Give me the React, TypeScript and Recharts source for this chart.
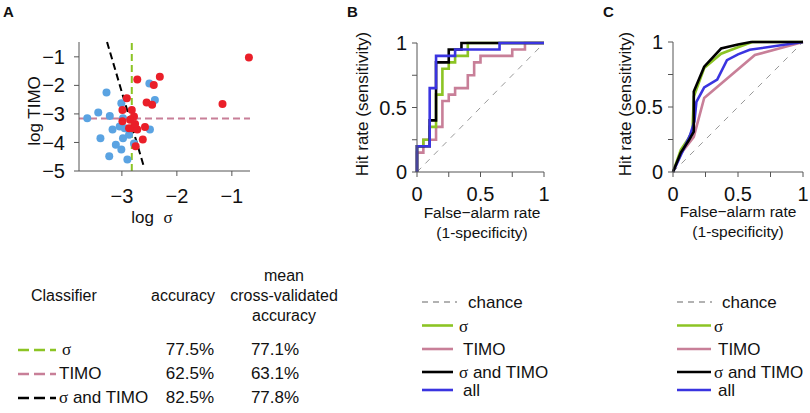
import React from 'react';
import { ScatterChart, Scatter, LineChart, Line, XAxis, YAxis, ReferenceLine } from 'recharts';

const FONT = '"Liberation Sans", Arial, Helvetica, sans-serif';
const SERIF = '"Liberation Serif", "DejaVu Serif", serif';

const GREEN = '#8cc424';
const PINK = '#c87f98';
const BLUE_LINE = '#3a34e0';
const BLUE_DOT = '#5aa3e2';
const RED_DOT = '#ea1f29';
const AXIS = '#555';

// panel A: log sigma / log TIMO per cell
const blueLogSigma = [-3.63, -3.43, -3.28, -3.22, -3.01, -3.04, -3.17, -3.39, -3.11, -2.98, -3.01, -3.23, -2.9, -2.5, -2.4, -2.49, -2.78, -2.98, -2.87, -2.95];
const blueLogTimo = [-3.15, -2.95, -2.25, -3.07, -2.63, -3.44, -3.55, -3.85, -4.08, -3.85, -4.25, -4.48, -4.6, -1.93, -2.51, -3.55, -4.04, -3.15, -3.73, -3.5];
const redLogSigma = [-0.69, -1.17, -2.31, -2.72, -2.42, -2.91, -2.55, -2.45, -2.99, -2.82, -2.78, -2.99, -2.87, -2.81, -2.72, -2.58, -2.62, -2.75, -2.85, -2.76];
const redLogTimo = [-1.02, -2.65, -1.7, -1.79, -1.99, -2.45, -2.6, -2.68, -2.86, -2.86, -3.09, -3.26, -3.5, -3.5, -3.55, -3.46, -3.9, -4.13, -3.2, -3.35];

const sigmaThreshold = -2.82;
const timoThreshold = -3.16;
const jointBoundary = [
  { x: -3.27, y: -0.48 },
  { x: -2.6, y: -4.85 },
];

const xTicksA = [-3, -2, -1];
const yTicksA = [-5, -4, -3, -2, -1];
const rocTicks = [0, 0.25, 0.5, 0.75, 1];

// panel B: ROC on training data
const rocBSigmaFpr = [0, 0, 0.05, 0.05, 0.1, 0.1, 0.15, 0.15, 0.2, 0.2, 0.25, 0.25, 0.3, 0.3, 0.4, 0.4, 1];
const rocBSigmaTpr = [0, 0.2, 0.2, 0.25, 0.25, 0.35, 0.35, 0.6, 0.6, 0.8, 0.8, 0.85, 0.85, 0.9, 0.9, 1, 1];
const rocBTimoFpr = [0, 0, 0.05, 0.05, 0.15, 0.15, 0.2, 0.2, 0.25, 0.25, 0.3, 0.3, 0.4, 0.4, 0.45, 0.45, 0.5, 0.5, 0.75, 0.75, 0.85, 0.85, 1];
const rocBTimoTpr = [0, 0.15, 0.15, 0.25, 0.25, 0.35, 0.35, 0.55, 0.55, 0.6, 0.6, 0.65, 0.65, 0.75, 0.75, 0.85, 0.85, 0.9, 0.9, 0.95, 0.95, 1, 1];
const rocBBothFpr = [0, 0, 0.1, 0.1, 0.15, 0.15, 0.25, 0.25, 0.35, 0.35, 1];
const rocBBothTpr = [0, 0.2, 0.2, 0.4, 0.4, 0.85, 0.85, 0.95, 0.95, 1, 1];
const rocBAllFpr = [0, 0, 0.1, 0.1, 0.15, 0.15, 0.3, 0.3, 0.65, 0.65, 1];
const rocBAllTpr = [0, 0.2, 0.2, 0.65, 0.65, 0.9, 0.9, 0.95, 0.95, 1, 1];

// panel C: cross-validated ROC
const rocCSigmaFpr = [0, 0.06, 0.12, 0.15, 0.16, 0.24, 0.37, 0.5, 0.61, 1];
const rocCSigmaTpr = [0, 0.17, 0.26, 0.32, 0.58, 0.8, 0.91, 0.96, 1, 1];
const rocCTimoFpr = [0, 0.06, 0.16, 0.24, 0.63, 1];
const rocCTimoTpr = [0, 0.14, 0.27, 0.57, 0.9, 1];
const rocCBothFpr = [0, 0.06, 0.12, 0.16, 0.16, 0.24, 0.37, 0.5, 0.6, 1];
const rocCBothTpr = [0, 0.15, 0.24, 0.31, 0.62, 0.81, 0.95, 0.98, 1, 1];
const rocCAllFpr = [0, 0.06, 0.13, 0.165, 0.18, 0.24, 0.34, 0.415, 0.5, 0.59, 1];
const rocCAllTpr = [0, 0.13, 0.28, 0.39, 0.54, 0.65, 0.71, 0.86, 0.905, 0.94, 1];

const classifierNames = ['σ', 'TIMO', 'σ and TIMO'];
const accuracy = ['77.5%', '62.5%', '82.5%'];
const cvAccuracy = ['77.1%', '63.1%', '77.8%'];

const zip = (xs: number[], ys: number[]) => xs.map((x, i) => ({ x, y: ys[i] }));
const minus = (v: number) => String(v).replace('-', '\u2212');
const rocLabel = (v: number) => (v === 0.25 || v === 0.75 ? '' : String(v));

const tickStyle = { fill: '#111', fontSize: 20, fontFamily: FONT };

function Txt({ x, y, size = 17, align = 'left', rotate = false, bold = false, children }: any) {
  const tx = align === 'center' ? '-50%' : align === 'right' ? '-100%' : '0';
  return (
    <div
      style={{
        position: 'absolute',
        left: x,
        top: y,
        fontSize: size,
        fontWeight: bold ? 700 : 400,
        whiteSpace: 'nowrap',
        lineHeight: 1,
        transform: rotate ? 'translate(-50%,-50%) rotate(-90deg)' : `translate(${tx},-50%)`,
      }}
    >
      {children}
    </div>
  );
}

const S = () => <span style={{ fontFamily: SERIF }}>σ</span>;

const dot = (color: string) => (p: any) => <circle cx={p.cx} cy={p.cy} r={4} fill={color} />;

function PanelA() {
  return (
    <ScatterChart width={270} height={215} margin={{ top: 42, right: 20, bottom: 0, left: 0 }}>
      <XAxis
        type="number"
        dataKey="x"
        domain={[-3.78, -0.67]}
        ticks={xTicksA}
        tickFormatter={minus}
        tickSize={5}
        tickMargin={13}
        height={44}
        stroke={AXIS}
        tick={tickStyle}
      />
      <YAxis
        type="number"
        dataKey="y"
        domain={[-5, -0.48]}
        ticks={yTicksA}
        tickFormatter={minus}
        tickSize={5}
        tickMargin={9}
        width={79}
        stroke={AXIS}
        tick={tickStyle}
      />
      <Scatter data={zip(blueLogSigma, blueLogTimo)} shape={dot(BLUE_DOT)} isAnimationActive={false} />
      <Scatter data={zip(redLogSigma, redLogTimo)} shape={dot(RED_DOT)} isAnimationActive={false} />
      <ReferenceLine x={sigmaThreshold} stroke={GREEN} strokeWidth={2} strokeDasharray="7 4" />
      <ReferenceLine y={timoThreshold} stroke={PINK} strokeWidth={2} strokeDasharray="7 4" />
      <ReferenceLine segment={jointBoundary} stroke="#000" strokeWidth={2} strokeDasharray="7 4" />
    </ScatterChart>
  );
}

function RocPanel({ width, yAxisWidth, right, top, series }: any) {
  return (
    <LineChart width={width} height={215} margin={{ top, right, bottom: 0, left: 0 }}>
      <XAxis
        type="number"
        dataKey="x"
        domain={[0, 1]}
        ticks={rocTicks}
        tickFormatter={rocLabel}
        tickSize={5}
        tickMargin={10}
        height={43}
        stroke={AXIS}
        tick={tickStyle}
      />
      <YAxis
        type="number"
        dataKey="y"
        domain={[0, 1]}
        ticks={rocTicks}
        tickFormatter={rocLabel}
        tickSize={5}
        tickMargin={5}
        width={yAxisWidth}
        stroke={AXIS}
        tick={tickStyle}
      />
      <ReferenceLine
        segment={[
          { x: 0, y: 0 },
          { x: 1, y: 1 },
        ]}
        stroke="#999"
        strokeWidth={1}
        strokeDasharray="6 6"
      />
      {series.map((s: any, i: number) => (
        <Line
          key={i}
          data={s.data}
          dataKey="y"
          type="linear"
          stroke={s.color}
          strokeWidth={2.6}
          dot={false}
          isAnimationActive={false}
        />
      ))}
    </LineChart>
  );
}

const legendRows = [
  { label: 'chance', color: '#999', dash: '6 5', y: 302 },
  { label: 'σ', color: GREEN, y: 325.5 },
  { label: 'TIMO', color: PINK, y: 349 },
  { label: 'σ and TIMO', color: '#000', y: 372 },
  { label: 'all', color: BLUE_LINE, y: 390 },
];

function LegendText({ label }: { label: string }) {
  if (label === 'σ') return <S />;
  if (label === 'σ and TIMO')
    return (
      <>
        <S /> and TIMO
      </>
    );
  return <>{label}</>;
}

export default function App() {
  const seriesB = [
    { data: zip(rocBTimoFpr, rocBTimoTpr), color: PINK },
    { data: zip(rocBSigmaFpr, rocBSigmaTpr), color: GREEN },
    { data: zip(rocBBothFpr, rocBBothTpr), color: '#000' },
    { data: zip(rocBAllFpr, rocBAllTpr), color: BLUE_LINE },
  ];
  const seriesC = [
    { data: zip(rocCTimoFpr, rocCTimoTpr), color: PINK },
    { data: zip(rocCSigmaFpr, rocCSigmaTpr), color: GREEN },
    { data: zip(rocCAllFpr, rocCAllTpr), color: BLUE_LINE },
    { data: zip(rocCBothFpr, rocCBothTpr), color: '#000' },
  ];
  const tableColors = [GREEN, PINK, '#000'];
  const rowY = [349, 373, 397];

  return (
    <div
      style={{
        position: 'absolute',
        left: 0,
        top: 0,
        width: 810,
        height: 413,
        background: '#fff',
        fontFamily: FONT,
        color: '#111',
        overflow: 'hidden',
      }}
    >
      <div style={{ position: 'absolute', left: 0, top: 0 }}>
        <PanelA />
      </div>
      <div style={{ position: 'absolute', left: 340, top: 0 }}>
        <RocPanel width={215} yAxisWidth={77} right={11} top={43} series={seriesB} />
      </div>
      <div style={{ position: 'absolute', left: 600, top: 0 }}>
        <RocPanel width={210} yAxisWidth={73} right={7} top={42} series={seriesC} />
      </div>

      <Txt x={3} y={11} size={15} bold>A</Txt>
      <Txt x={347} y={11} size={15} bold>B</Txt>
      <Txt x={603} y={11} size={15} bold>C</Txt>

      <Txt x={34} y={111} rotate>log TIMO</Txt>
      <Txt x={152} y={217} align="center">
        log&nbsp;&nbsp;<S />
      </Txt>

      <Txt x={362} y={104} rotate>Hit rate (sensitivity)</Txt>
      <Txt x={482} y={213} size={15.5} align="center">False−alarm rate</Txt>
      <Txt x={482} y={233} size={15.5} align="center">(1-specificity)</Txt>

      <Txt x={625} y={104} rotate>Hit rate (sensitivity)</Txt>
      <Txt x={738} y={212} size={15.5} align="center">False−alarm rate</Txt>
      <Txt x={738} y={232} size={15.5} align="center">(1-specificity)</Txt>

      <Txt x={31} y={296} size={16}>Classifier</Txt>
      <Txt x={183} y={296} size={16} align="center">accuracy</Txt>
      <Txt x={284} y={276} size={16} align="center">mean</Txt>
      <Txt x={284} y={296} size={16} align="center">cross-validated</Txt>
      <Txt x={284} y={316} size={16} align="center">accuracy</Txt>

      {classifierNames.map((name, i) => (
        <React.Fragment key={name}>
          <Txt x={i === 0 ? 62 : 59} y={rowY[i]}>
            <LegendText label={name} />
          </Txt>
          <Txt x={214} y={rowY[i]} align="right">{accuracy[i]}</Txt>
          <Txt x={275} y={rowY[i]} align="center">{cvAccuracy[i]}</Txt>
        </React.Fragment>
      ))}

      {legendRows.map((r) => (
        <React.Fragment key={r.label}>
          <Txt x={r.label === 'chance' ? 468 : r.label === 'σ' || r.label === 'σ and TIMO' ? 459 : 463} y={r.y}>
            <LegendText label={r.label} />
          </Txt>
          <Txt x={r.label === 'chance' ? 722 : r.label === 'σ' || r.label === 'σ and TIMO' ? 714 : 718} y={r.y}>
            <LegendText label={r.label} />
          </Txt>
        </React.Fragment>
      ))}

      <svg width={810} height={413} style={{ position: 'absolute', left: 0, top: 0, pointerEvents: 'none' }}>
        {classifierNames.map((name, i) => (
          <line key={name} x1={18} x2={56} y1={rowY[i] + 1} y2={rowY[i] + 1} stroke={tableColors[i]} strokeWidth={2.5} strokeDasharray="11 5" />
        ))}
        {legendRows.map((r) => (
          <React.Fragment key={r.label}>
            <line x1={422} x2={r.dash ? 457 : 453} y1={r.y} y2={r.y} stroke={r.color} strokeWidth={r.dash ? 1.5 : 2.6} strokeDasharray={r.dash} />
            <line x1={677} x2={r.dash ? 712 : 711} y1={r.y} y2={r.y} stroke={r.color} strokeWidth={r.dash ? 1.5 : 2.6} strokeDasharray={r.dash} />
          </React.Fragment>
        ))}
      </svg>
    </div>
  );
}
